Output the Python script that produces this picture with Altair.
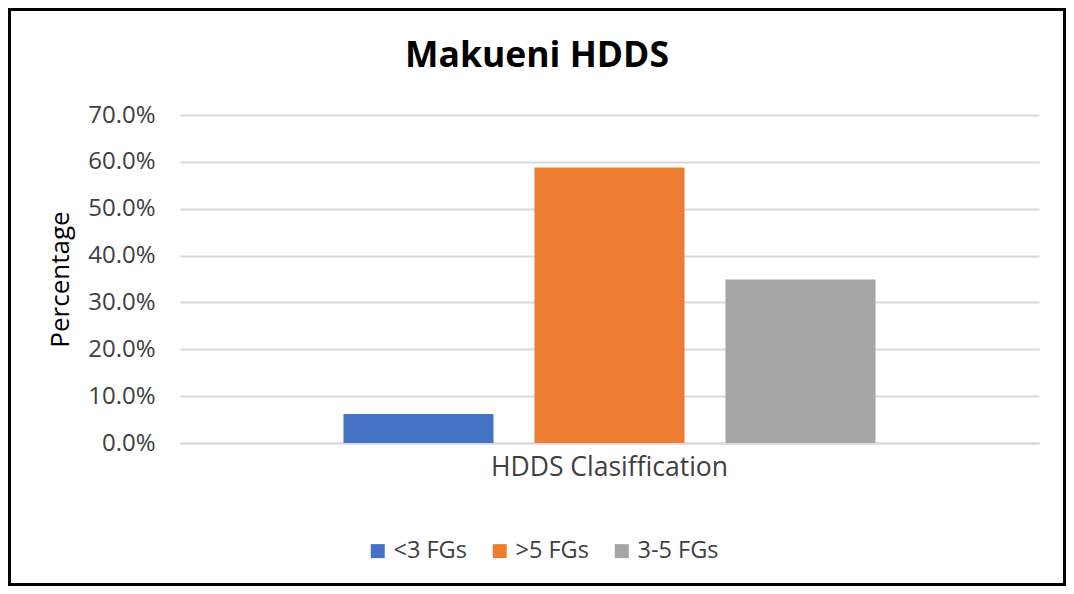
import altair as alt
import pandas as pd

categories = ["<3 FGs", ">5 FGs", "3-5 FGs"]
values = [0.062, 0.588, 0.349]
group_label = "HDDS Clasiffication"
colors = ["#4472C4", "#ED7D31", "#A5A5A5"]
y_ticks = [0.0, 0.1, 0.2, 0.3, 0.4, 0.5, 0.6, 0.7]

df = pd.DataFrame({"group": [group_label] * len(categories), "cls": categories, "pct": values})

FONT = "Open Sans"
TEXT = "#404040"
W, H = 859, 328

bars = alt.Chart(df).mark_bar().encode(
    x=alt.X(
        "group:N",
        title=None,
        scale=alt.Scale(paddingInner=0, paddingOuter=0.3073),
        axis=alt.Axis(
            labelFontSize=26.5, labelFont=FONT, labelColor=TEXT, labelPadding=11,
            labelAngle=0, labelLimit=600, ticks=False, domainColor="#d9d9d9", domainWidth=2,
        ),
    ),
    xOffset=alt.XOffset("cls:N", sort=categories,
                        scale=alt.Scale(paddingInner=0.2147, paddingOuter=0)),
    y=alt.Y(
        "pct:Q",
        title="Percentage",
        scale=alt.Scale(domain=[0, 0.7], nice=False),
        axis=alt.Axis(
            format=".1%", values=y_ticks, grid=True, gridColor="#d9d9d9", gridWidth=2,
            domain=False, ticks=False, labelPadding=25, labelFontSize=24,
            labelFont=FONT, labelColor=TEXT, titleFont=FONT, titleFontSize=26,
            titleFontWeight="normal", titleColor="black", titlePadding=14,
        ),
    ),
    color=alt.Color(
        "cls:N", sort=categories,
        scale=alt.Scale(domain=categories, range=colors),
        legend=alt.Legend(
            title=None, orient="none", direction="horizontal", legendX=186, legendY=424,
            symbolType="square", symbolSize=196, symbolStrokeWidth=0, labelFontSize=23.5,
            labelFont=FONT, labelColor=TEXT, labelOffset=4, columnPadding=21, padding=0,
        ),
    ),
)

border = alt.Chart(alt.Data(values=[{"b": 1}])).mark_rect(
    fillOpacity=0, stroke="black", strokeWidth=3, clip=False
).encode(
    x=alt.value(-170.5), x2=alt.value(884.5), y=alt.value(-105.5), y2=alt.value(469.5)
)

chart = alt.layer(border, bars).properties(
    width=W,
    height=H,
    padding={"left": 172, "top": 107, "right": 27, "bottom": 143},
    autosize=alt.AutoSizeParams(type="none"),
    title=alt.Title(
        "Makueni HDDS", font=FONT, fontSize=35.5, fontWeight="bold", color="black",
        anchor="middle", dx=-72.5, offset=-66,
    ),
).configure_view(stroke=None)

chart.save("out.html", embed_options={"renderer": "svg", "actions": False})
